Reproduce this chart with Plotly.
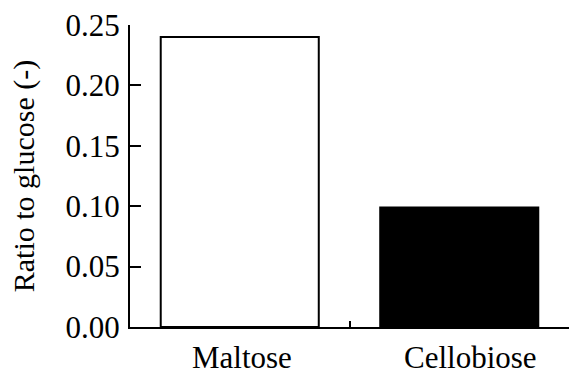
import plotly.graph_objects as go

categories = ["Maltose", "Cellobiose"]
ratios = [0.240, 0.099]
bar_fill = ["white", "black"]
y_ticks = [0.00, 0.05, 0.10, 0.15, 0.20, 0.25]
y_tick_text = ["0.00", "0.05", "0.10", "0.15", "0.20", "0.25"]

xpos = list(range(len(categories)))
FONT = "Liberation Serif, Times New Roman, serif"

fig = go.Figure()
fig.add_trace(go.Bar(
    x=xpos, y=ratios, width=0.72,
    marker=dict(color=bar_fill, line=dict(color="black", width=2)),
    showlegend=False, hoverinfo="skip",
))

label_shift = [2, 11]
for xi, name, dx in zip(xpos, categories, label_shift):
    fig.add_annotation(x=xi, y=0, xref="x", yref="paper", text=name,
                       showarrow=False, yanchor="top", yshift=-13, xshift=dx,
                       height=30, valign="middle",
                       font=dict(family=FONT, size=31, color="black"))

fig.update_layout(
    width=569, height=373,
    margin=dict(l=130, r=0, t=25, b=46),
    paper_bgcolor="white", plot_bgcolor="white",
    font=dict(family=FONT, size=31, color="black"),
    xaxis=dict(range=[-0.5, 1.5], showgrid=False, zeroline=False,
               automargin=False,
               showline=True, linecolor="black", linewidth=2,
               tickvals=[], showticklabels=False,
               minor=dict(tickvals=[0.5], ticks="inside", ticklen=6,
                          tickwidth=2, tickcolor="black", showgrid=False)),
    yaxis=dict(range=[0, 0.25], showgrid=False, zeroline=False,
               automargin=False,
               showline=True, linecolor="black", linewidth=2,
               tickvals=y_ticks, ticktext=y_tick_text,
               ticks="inside", ticklen=11, tickwidth=2, tickcolor="black",
               ticklabelstandoff=2, tickfont=dict(family=FONT, size=31),
               title=dict(text="Ratio to glucose (-)", standoff=22,
                          font=dict(family=FONT, size=30))),
)

fig.write_html("out.html", config={"displayModeBar": False},
               post_script="document.body.style.margin='0';document.body.style.overflow='hidden';")
